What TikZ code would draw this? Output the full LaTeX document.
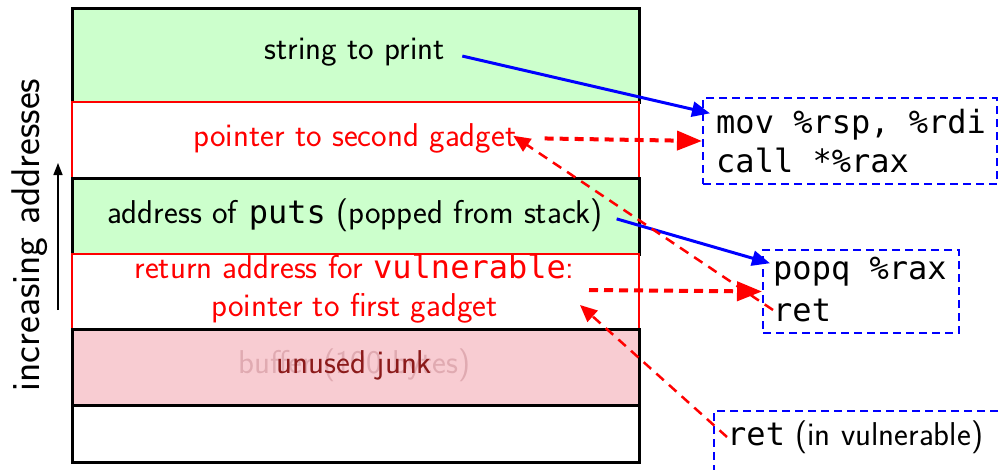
\documentclass[tikz,border=0pt]{standalone}
\usepackage{fontspec}
\setmonofont[Scale=0.97]{DejaVu Sans Mono}
\usetikzlibrary{arrows.meta,calc}
\definecolor{stackgreen}{RGB}{204,255,204}
\definecolor{stackpink}{RGB}{248,204,210}
\definecolor{fadedtext}{RGB}{224,170,177}
\definecolor{junkred}{RGB}{139,26,26}
\begin{document}
\begin{tikzpicture}[x=1pt,y=-1pt,
  font=\fontsize{33}{38}\selectfont\sffamily,
  row/.style={draw=black,line width=2.5pt,minimum width=567pt,inner sep=0pt,anchor=north west},
  redrow/.style={row,draw=red,line width=2pt,fill=white},
  txt/.style={inner sep=0pt},
  codeline/.style={inner sep=0pt,anchor=west,font=\fontsize{33}{38}\selectfont\ttfamily},
  gadget/.style={draw=blue,line width=2pt,dash pattern=on 8pt off 5pt,inner sep=0pt,anchor=north west},
  bluearrow/.style={draw=blue,line width=3pt,-{Triangle[length=18pt,width=15pt]}},
  redthick/.style={draw=red,line width=4pt,dash pattern=on 9pt off 6pt,-{Triangle[length=25pt,width=19pt]}},
  redthin/.style={draw=red,line width=2.5pt,dash pattern=on 10pt off 7pt,-{Triangle[length=17pt,width=15pt]}}]
\useasboundingbox (0,0) rectangle (1003,469);
% stack rows
\node[row,fill=stackgreen,minimum height=94pt] (r1) at (71,7) {};
\node[redrow,minimum height=76pt] (r2) at (71,101) {};
\node[row,fill=stackgreen,minimum height=76pt] (r3) at (71,177) {};
\node[redrow,minimum height=75pt] (r4) at (71,253) {};
\node[row,fill=stackpink,minimum height=76pt] (r5) at (71,328) {};
\node[row,fill=white,minimum height=57pt] (r6) at (71,404) {};
% stack texts
\node[txt] (tstr) at (354.5,52) {string to print};
\node[txt,text=red] (tsec) at (355,138) {pointer to second gadget};
\node[txt] (tputs) at (355,215) {address of \texttt{puts} (popped from stack)};
\node[txt,text=red,align=center,font=\fontsize{33}{38}\selectfont\sffamily] (tret) at (354.5,289) {return address for \texttt{vulnerable}:\\pointer to first gadget};
\node[txt,text=fadedtext] (tbuf) at (354.5,365) {buffer (100 bytes)};
\node[txt,text=junkred] (tjunk) at (354.5,365) {unused junk};
% direction label
\node[txt,rotate=90,font=\fontsize{40}{44}\selectfont\sffamily] (tinc) at (30,235) {increasing addresses};
\coordinate (incA) at (58,310);
\coordinate (incB) at (58,163);
\draw[line width=1.5pt,-{Triangle[length=12pt,width=9pt]}] (incA) -- (incB);
% gadget boxes
\node[gadget,minimum width=294pt,minimum height=86pt] (boxA) at (702,97) {};
\node[codeline] (a1) at (716,125) {mov \%rsp, \%rdi};
\node[codeline] (a2) at (716,160) {call *\%rax};
\node[gadget,minimum width=196pt,minimum height=83pt] (boxB) at (762,249) {};
\node[codeline] (b1) at (773,272) {popq \%rax};
\node[codeline] (b2) at (773,310) {ret};
\node[gadget,minimum width=310pt,minimum height=80pt] (boxC) at (713,410) {};
\node[codeline,font=\fontsize{33}{38}\selectfont\sffamily] (c1) at (727,437) {\texttt{ret} (in vulnerable)};
% connectors
\draw[bluearrow,shorten <=18pt] (tstr.east) -- ($(a1.north west)+(-6,4)$);
\draw[bluearrow,shorten <=14pt] (tputs.east) -- ($(b1.north west)+(-3,6)$);
\draw[redthick,shorten <=28pt] (tsec.east) -- (boxA.west);
\coordinate (p1) at (589,290);
\draw[redthick] (p1) -- (boxB.west);
\draw[redthin,shorten >=-4pt] (b2.west) -- (tsec.east);
\coordinate (p2) at (580,305);
\draw[redthin] (c1.west) -- (p2);
\end{tikzpicture}
\end{document}
